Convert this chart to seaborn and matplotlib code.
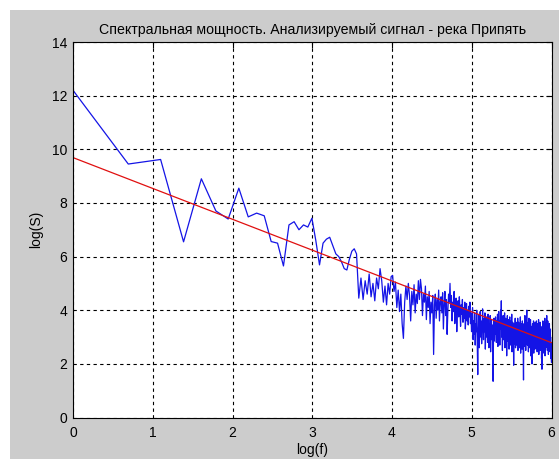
import numpy as np
import pandas as pd
import matplotlib
matplotlib.use("Agg")
import matplotlib.pyplot as plt
from matplotlib.patches import Rectangle
import seaborn as sns

# Log power spectrum of the Pripyat river series, harmonics k = 1..N
psd_low = [12.2, 9.45, 9.62, 6.55, 8.9, 7.7, 7.4, 8.55, 7.48, 7.62, 7.52, 6.56,
           6.5, 5.65, 7.18, 7.3, 7.0, 7.18, 7.1, 7.43, 6.6, 5.69, 6.5, 6.65,
           6.72, 6.4, 6.1, 6.0, 5.8, 5.55, 5.5, 5.9, 6.2, 6.29, 6.1, 4.45]
psd_k37_100 = [5.2, 4.4, 5.1, 4.6, 5.35, 4.5, 5.0, 4.35, 5.2, 4.8, 5.55, 5.1,
               4.3, 4.9, 4.2, 5.0, 4.6, 5.25, 5.3, 4.7, 5.05, 4.1, 4.75, 3.95,
               4.6, 3.5, 2.95, 4.3, 4.9, 4.4, 5.0, 4.55, 3.6, 4.7, 4.2, 4.95,
               3.9, 4.6, 4.25, 5.1, 4.4, 5.15, 4.8, 3.8, 4.6, 4.3, 4.9, 3.65,
               4.5, 4.1, 4.7, 3.5, 4.3, 3.9, 4.55, 2.35, 4.2, 4.6, 3.7, 4.4,
               4.0, 4.75, 3.6, 4.3]
psd_k101_148 = [4.5, 3.9, 4.65, 3.3, 4.2, 4.7, 3.8, 4.4, 3.1, 4.0, 4.6, 4.3,
                5.0, 4.1, 4.55, 3.6, 4.3, 3.95, 4.7, 3.5, 4.1, 4.45, 3.2, 4.0,
                4.35, 3.75, 4.5, 4.05, 3.4, 4.2, 3.85, 4.4, 3.55, 4.1, 3.7, 4.3,
                3.3, 3.9, 4.25, 3.6, 4.0, 3.45, 4.15, 3.75, 4.3, 3.5, 3.9, 3.2]
psd_k149_200 = [3.7, 4.1, 2.9, 3.6, 3.1, 3.9, 2.7, 3.5, 3.2, 4.0, 2.8, 1.6,
                3.3, 3.8, 2.6, 3.4, 3.95, 3.0, 3.6, 2.75, 3.3, 4.05, 3.5, 2.9,
                3.7, 3.2, 3.9, 2.55, 3.4, 3.75, 3.0, 3.55, 2.8, 3.85, 3.3, 2.6,
                3.5, 3.1, 3.8, 2.45, 3.35, 3.65, 2.9, 3.45, 2.7, 1.35, 3.2, 3.7,
                2.85, 3.5, 3.1, 3.75]
psd_k201_260 = [3.3, 2.8, 3.6, 3.05, 3.85, 2.65, 3.4, 3.95, 3.1, 3.6, 2.7, 3.5,
                4.0, 3.3, 4.35, 3.0, 3.7, 2.5, 3.45, 3.8, 2.9, 3.55, 3.15, 3.9,
                2.6, 3.35, 3.7, 2.95, 3.5, 2.3, 3.25, 3.8, 2.85, 3.4, 3.05, 3.65,
                2.55, 3.3, 3.75, 2.9, 3.45, 2.7, 3.6, 3.1, 3.85, 2.45, 3.2, 3.55,
                2.8, 3.4, 1.95, 3.0, 3.5, 2.75, 3.3, 3.7, 2.6, 3.25, 2.9, 3.55]
psd_k261_330 = [2.7, 3.35, 3.0, 3.7, 2.5, 3.2, 3.55, 2.85, 3.3, 2.6, 3.45, 3.05,
                3.75, 2.4, 3.15, 3.5, 2.75, 3.3, 2.55, 3.6, 2.9, 3.4, 2.2, 1.4,
                2.95, 3.5, 2.65, 3.25, 3.8, 2.8, 3.35, 2.5, 3.6, 3.1, 3.75, 4.0,
                3.2, 2.7, 3.45, 2.9, 3.55, 2.45, 3.1, 3.7, 2.75, 3.3, 2.6, 3.5,
                2.95, 3.65, 2.3, 3.05, 3.4, 2.7, 3.25, 2.0, 2.85, 3.5, 2.6, 3.2,
                2.9, 3.6, 2.4, 3.1, 3.45, 2.7, 3.3, 2.55, 3.55, 2.85]
psd_k331_403 = [3.4, 2.6, 3.15, 3.6, 2.8, 3.3, 2.45, 3.05, 3.5, 2.7, 3.25, 2.9,
                3.65, 2.35, 3.0, 3.45, 2.6, 3.2, 2.85, 3.55, 2.5, 3.1, 3.4, 2.75,
                3.3, 2.2, 2.9, 1.8, 2.65, 3.35, 2.95, 3.6, 2.4, 3.1, 3.5, 2.7,
                3.2, 2.55, 3.45, 2.85, 3.7, 2.3, 3.0, 3.35, 2.6, 3.15, 3.55, 2.75,
                3.3, 3.8, 2.9, 3.45, 2.5, 3.2, 3.6, 2.7, 3.05, 2.35, 3.4, 2.8,
                3.25, 2.55, 3.5, 2.9, 3.15, 2.45, 3.3, 2.65, 3.0, 2.2, 2.8, 2.4,
                2.05]

# Linear regression of log(S) on log(f)
fit_intercept = 9.69
fit_slope = -1.15

x_ticks = [0, 1, 2, 3, 4, 5, 6]
y_ticks = [0, 2, 4, 6, 8, 10, 12, 14]

title_text = "Спектральная мощность. Анализируемый сигнал - река Припять"

log_s = np.array(psd_low + psd_k37_100 + psd_k101_148 + psd_k149_200
                 + psd_k201_260 + psd_k261_330 + psd_k331_403)
harmonic = np.arange(1, len(log_s) + 1)
spec = pd.DataFrame({"log_f": np.log(harmonic), "log_S": log_s})
fit_x = np.array([spec["log_f"].min(), spec["log_f"].max()])
fit = pd.DataFrame({"log_f": fit_x, "log_S": fit_intercept + fit_slope * fit_x})

sns.set_style("white")
plt.rcParams["font.family"] = ["Liberation Sans", "DejaVu Sans"]
plt.rcParams["font.size"] = 10

W, H = 559, 459
fig = plt.figure(figsize=(W / 100, H / 100), dpi=100, facecolor="white")
fig.patches.append(Rectangle((10 / W, 0), 1 - 10 / W, 1 - 10 / H,
                             transform=fig.transFigure, facecolor="#cccccc",
                             edgecolor="none", zorder=-10))

ax = fig.add_axes([73 / W, 1 - 417.5 / H, (551.5 - 73) / W, (417.5 - 42) / H])
ax.set_facecolor("white")

sns.lineplot(data=spec, x="log_f", y="log_S", ax=ax, color="#1414e6",
             linewidth=0.9, sort=False, estimator=None)
sns.lineplot(data=fit, x="log_f", y="log_S", ax=ax, color="#e01010",
             linewidth=0.9, sort=False, estimator=None)

ax.set_xlim(0, 6)
ax.set_ylim(0, 14)
ax.set_xticks(x_ticks)
ax.set_yticks(y_ticks)
ax.grid(True, color="black", linestyle=(0, (3, 3)), linewidth=0.8)
ax.set_axisbelow(True)
for s in ax.spines.values():
    s.set_color("black")
    s.set_linewidth(0.8)
ax.tick_params(direction="in", length=4, width=0.8, top=True, right=True,
               colors="black", labelsize=10)
ax.tick_params(axis="x", pad=6)
ax.tick_params(axis="y", pad=4)

ax.set_title(title_text, fontsize=10.2, pad=6, color="black")
ax.set_xlabel("log(f)", fontsize=10, labelpad=2, color="black")
ax.set_ylabel("log(S)", fontsize=10, labelpad=6, color="black")

fig.savefig("out.png", dpi=100, facecolor=fig.get_facecolor())
